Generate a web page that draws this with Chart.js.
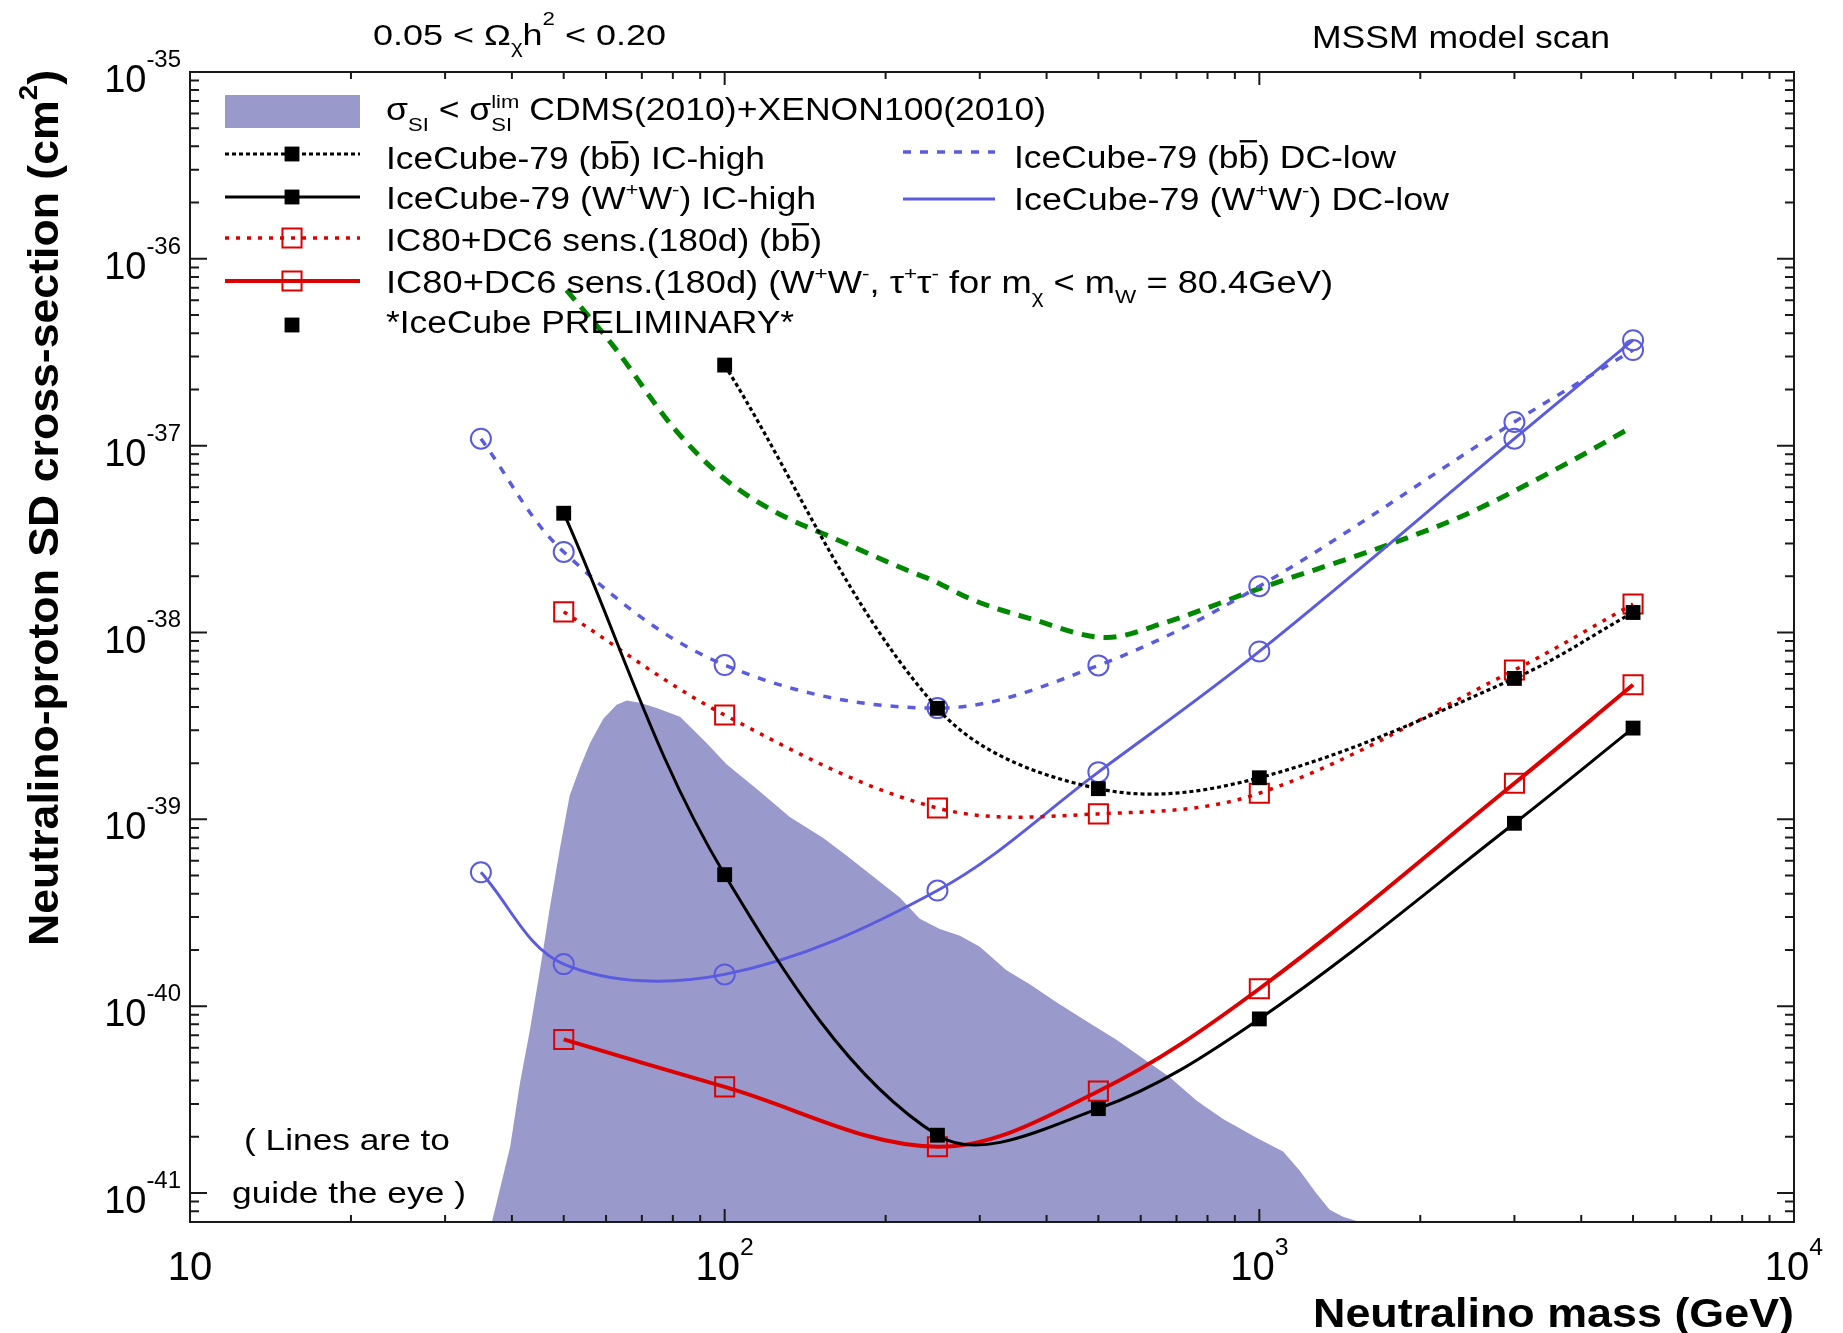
<!DOCTYPE html>
<html>
<head>
<meta charset="utf-8">
<title>Neutralino-proton SD cross-section limits</title>
<script src="https://cdn.jsdelivr.net/npm/chart.js@4.4.0/dist/chart.umd.min.js"></script>
<style>
  html, body { margin: 0; padding: 0; background: #fff; }
  canvas { display: block; }
</style>
</head>
<body>
<canvas id="chart" width="1843" height="1333"></canvas>
<script>
// neutralino masses (GeV) of the analysis points
const massIcHigh = [100, 250, 500, 1000, 3000, 5000];
const massSens = [50, 100, 250, 500, 1000, 3000, 5000];
const massDcLow = [35, 50, 100, 250, 500, 1000, 3000, 5000];

// SD cross-section limits (cm^2)
const icHighBB = [2.70e-37, 3.93e-39, 1.46e-39, 1.67e-39, 5.68e-39, 1.28e-38];
const icHighWW = [4.35e-38, 5.06e-40, 2.04e-41, 2.83e-41, 8.55e-41, 9.53e-40, 3.08e-39];
const sensBB = [1.29e-38, 3.62e-39, 1.15e-39, 1.07e-39, 1.38e-39, 6.30e-39, 1.42e-38];
const sensWW = [6.64e-41, 3.70e-41, 1.77e-41, 3.51e-41, 1.24e-40, 1.56e-39, 5.25e-39];
const dcLowBB = [1.09e-37, 2.70e-38, 6.70e-39, 3.94e-39, 6.67e-39, 1.77e-38, 1.34e-37, 3.25e-37];
const dcLowWW = [5.21e-40, 1.68e-40, 1.48e-40, 4.16e-40, 1.79e-39, 7.92e-39, 1.09e-37, 3.67e-37];

// green dashed curve (no legend entry)
const greenMass = [50.6, 62, 80, 99, 123, 164, 219, 242, 292, 372, 518, 660, 1000, 1800, 2440, 3750, 4930];
const greenSigma = [6.8e-37, 3.4e-37, 1.26e-37, 6.8e-38, 4.5e-38, 3.1e-38, 2.16e-38, 1.93e-38, 1.49e-38,
  1.19e-38, 9.4e-39, 1.12e-38, 1.72e-38, 3.05e-38, 4.3e-38, 8.0e-38, 1.24e-37];

// MSSM scan region allowed by CDMS+XENON100 SI limits (upper edge)
const envMass = [36.7, 39.7, 41.4, 43.2, 45.1, 47.1, 49.2, 51.3, 53.6, 56.0, 59.3, 62.8, 65.6, 69.4, 74.6,
  82.5, 92.5, 100.8, 114.7, 132.4, 152.9, 169, 189.5, 212.6, 231.7, 252.6, 275.4, 300.1, 336.5, 372.1,
  417.5, 475.1, 540.5, 606.2, 680, 762.7, 855.4, 987.7, 1107.6, 1189.6, 1279, 1354, 1434, 1541];
const envSigma = [7e-42, 1.77e-41, 3.86e-41, 7.40e-41, 1.54e-40, 3.36e-40, 7.0e-40, 1.34e-39, 1.89e-39,
  2.56e-39, 3.46e-39, 4.11e-39, 4.33e-39, 4.21e-39, 3.95e-39, 3.54e-39, 2.56e-39, 1.97e-39, 1.46e-39,
  1.03e-39, 7.96e-40, 6.41e-40, 4.95e-40, 3.82e-40, 2.94e-40, 2.59e-40, 2.38e-40, 2.08e-40, 1.56e-40,
  1.31e-40, 1.05e-40, 8.31e-41, 6.61e-41, 5.25e-41, 4.17e-41, 3.13e-41, 2.49e-41, 1.98e-41, 1.67e-41,
  1.32e-41, 9.95e-42, 8.14e-42, 7.47e-42, 7e-42];

// axes
const xTicks = [10, 100, 1000, 10000];
const xTickLabels = ['10', '10^{2}', '10^{3}', '10^{4}'];
const yTicks = [1e-35, 1e-36, 1e-37, 1e-38, 1e-39, 1e-40, 1e-41];
const yTickLabels = ['10^{-35}', '10^{-36}', '10^{-37}', '10^{-38}', '10^{-39}', '10^{-40}', '10^{-41}'];
const xTitle = 'Neutralino mass (GeV)';
const yTitle = 'Neutralino-proton SD cross-section (cm^{2})';
const topLeftText = '0.05 < Ω_{χ}h^{2} < 0.20';
const topRightText = 'MSSM model scan';
const noteLines = ['( Lines are to', 'guide the eye )'];

const BLUE = '#5b5be0';
const RED = '#dd0000';
const FONT = '"Liberation Sans", Arial, sans-serif';

const pts = (xs, ys) => xs.map((x, i) => ({ x: x, y: ys[i] }));

// tiny ROOT-latex like text: ^{..} sup, _{..} sub, #bar{..} overline
function parseTex(s) {
  const out = [];
  let buf = '', i = 0;
  const flush = () => { if (buf) { out.push({ k: 'n', t: buf }); buf = ''; } };
  while (i < s.length) {
    const c = s[i];
    if ((c === '^' || c === '_') && s[i + 1] === '{') {
      flush();
      const j = s.indexOf('}', i);
      out.push({ k: c === '^' ? 'sup' : 'sub', t: s.slice(i + 2, j) });
      i = j + 1;
    } else if (s.startsWith('#bar{', i)) {
      flush();
      const j = s.indexOf('}', i);
      out.push({ k: 'bar', t: s.slice(i + 5, j) });
      i = j + 1;
    } else {
      buf += c;
      i++;
    }
  }
  flush();
  return out;
}

function drawTex(ctx, str, x, y, o) {
  const size = o.size;
  const weight = o.weight || 'normal';
  const small = size * (o.smallRatio || 0.62);
  const rise = size * (o.rise || 0.45);
  const drop = size * (o.drop || 0.3);
  const font = s => weight + ' ' + s + 'px ' + FONT;
  const parts = parseTex(str);
  const items = [];
  let cx = 0;
  for (let i = 0; i < parts.length; i++) {
    const p = parts[i];
    if (p.k === 'sup' || p.k === 'sub') {
      ctx.font = font(small);
      const group = [p];
      const q = parts[i + 1];
      if (q && (q.k === 'sup' || q.k === 'sub') && q.k !== p.k) { group.push(q); i++; }
      let w = 0;
      group.forEach(g => {
        items.push({ t: g.t, x: cx, y: g.k === 'sup' ? -rise : drop, s: small });
        w = Math.max(w, ctx.measureText(g.t).width);
      });
      cx += w;
    } else {
      ctx.font = font(size);
      const w = ctx.measureText(p.t).width;
      items.push({ t: p.t, x: cx, y: 0, s: size, bar: p.k === 'bar' ? w : 0 });
      cx += w;
    }
  }
  const sx = o.width ? o.width / cx : (o.sx || 1);
  const x0 = o.align === 'right' ? -cx : o.align === 'center' ? -cx / 2 : 0;
  ctx.save();
  ctx.translate(x, y);
  if (o.rotate) ctx.rotate(o.rotate);
  ctx.scale(sx, 1);
  ctx.fillStyle = o.color || '#000';
  ctx.textAlign = 'left';
  ctx.textBaseline = 'alphabetic';
  items.forEach(it => {
    ctx.font = font(it.s);
    ctx.fillText(it.t, x0 + it.x, it.y);
    if (it.bar) ctx.fillRect(x0 + it.x + 1, -size * 0.9, it.bar - 2, size * 0.075);
  });
  ctx.restore();
}

const datasets = [
  {
    label: 'IceCube-79 (bb) IC-high',
    data: pts(massIcHigh, icHighBB),
    borderColor: '#000', borderWidth: 3.2, borderDash: [4, 3],
    pointStyle: 'rect', pointRadius: 10.5, pointBackgroundColor: '#000', pointBorderWidth: 0,
    tension: 0.35, order: 2
  },
  {
    label: 'IceCube-79 (W+W-) IC-high',
    data: pts(massSens, icHighWW),
    borderColor: '#000', borderWidth: 3,
    pointStyle: 'rect', pointRadius: 10.5, pointBackgroundColor: '#000', pointBorderWidth: 0,
    tension: 0.35, order: 2
  },
  {
    label: 'IC80+DC6 sens.(180d) (bb)',
    data: pts(massSens, sensBB),
    borderColor: RED, borderWidth: 3.5, borderDash: [4, 7],
    pointStyle: 'rect', pointRadius: 13.5, pointBackgroundColor: 'rgba(0,0,0,0)',
    pointBorderColor: RED, pointBorderWidth: 2,
    tension: 0.35, order: 3
  },
  {
    label: 'IC80+DC6 sens.(180d) (W+W-)',
    data: pts(massSens, sensWW),
    borderColor: RED, borderWidth: 4,
    pointStyle: 'rect', pointRadius: 13.5, pointBackgroundColor: 'rgba(0,0,0,0)',
    pointBorderColor: RED, pointBorderWidth: 2,
    tension: 0.35, order: 3
  },
  {
    label: 'IceCube-79 (bb) DC-low',
    data: pts(massDcLow, dcLowBB),
    borderColor: BLUE, borderWidth: 3.5, borderDash: [8, 9],
    pointStyle: 'circle', pointRadius: 10, pointBackgroundColor: 'rgba(0,0,0,0)',
    pointBorderColor: BLUE, pointBorderWidth: 2,
    tension: 0.35, order: 4
  },
  {
    label: 'IceCube-79 (W+W-) DC-low',
    data: pts(massDcLow, dcLowWW),
    borderColor: BLUE, borderWidth: 3,
    pointStyle: 'circle', pointRadius: 10, pointBackgroundColor: 'rgba(0,0,0,0)',
    pointBorderColor: BLUE, pointBorderWidth: 2,
    tension: 0.35, order: 4
  },
  {
    label: 'green',
    data: pts(greenMass, greenSigma),
    borderColor: '#008800', borderWidth: 5, borderDash: [13, 9],
    pointRadius: 0, cubicInterpolationMode: 'monotone', order: 5
  },
  {
    label: 'CDMS(2010)+XENON100(2010)',
    data: pts(envMass, envSigma),
    borderColor: 'rgba(0,0,0,0)', borderWidth: 0, backgroundColor: '#9999cc',
    fill: 'start', pointRadius: 0, tension: 0, order: 10
  }
];

// frame, inward ticks, labels and legend in ROOT style
const rootFrame = {
  id: 'rootFrame',
  afterDraw(chart) {
    const { ctx, chartArea: a, scales: { x, y } } = chart;
    ctx.save();

    // ticks
    ctx.strokeStyle = '#1a1a1a';
    ctx.lineWidth = 2;
    ctx.beginPath();
    for (let e = 1; e <= 4; e++) {
      for (let k = 1; k <= 9; k++) {
        const v = k * Math.pow(10, e);
        if (v > 10000) break;
        const px = x.getPixelForValue(v);
        const len = k === 1 ? 13 : 7;
        ctx.moveTo(px, a.bottom); ctx.lineTo(px, a.bottom - len);
        ctx.moveTo(px, a.top); ctx.lineTo(px, a.top + len);
      }
    }
    for (let e = -42; e <= -35; e++) {
      for (let k = 1; k <= 9; k++) {
        const v = k * Math.pow(10, e);
        if (v < y.min * 0.999 || v > y.max * 1.001) continue;
        const py = y.getPixelForValue(v);
        const len = k === 1 ? 17 : 9;
        ctx.moveTo(a.left, py); ctx.lineTo(a.left + len, py);
        ctx.moveTo(a.right, py); ctx.lineTo(a.right - len, py);
      }
    }
    ctx.stroke();
    ctx.strokeRect(a.left, a.top, a.right - a.left, a.bottom - a.top);

    // tick labels
    xTicks.forEach((v, i) => {
      drawTex(ctx, xTickLabels[i], x.getPixelForValue(v), 1280,
        { size: 40, align: 'center', rise: 0.62, smallRatio: 0.62 });
    });
    yTicks.forEach((v, i) => {
      drawTex(ctx, yTickLabels[i], 181, y.getPixelForValue(v) + 20,
        { size: 38, align: 'right', rise: 0.66, smallRatio: 0.63 });
    });

    // axis titles
    drawTex(ctx, xTitle, a.right, 1327, { size: 41, weight: 'bold', align: 'right', width: 481 });
    drawTex(ctx, yTitle, 58, 70, { size: 43, weight: 'bold', align: 'right', rotate: -Math.PI / 2, width: 876, rise: 0.5 });

    // texts above the frame and inside it
    drawTex(ctx, topLeftText, 373, 45, { size: 30, width: 293, rise: 0.66, drop: 0.25 });
    drawTex(ctx, topRightText, 1312, 48, { size: 31, width: 298 });
    drawTex(ctx, noteLines[0], 347, 1150, { size: 30, align: 'center', width: 206 });
    drawTex(ctx, noteLines[1], 349, 1203, { size: 30, align: 'center', width: 234 });

    // legend
    const ds = chart.data.datasets;
    ctx.fillStyle = ds[7].backgroundColor;
    ctx.fillRect(225, 95, 135, 33);
    drawTex(ctx, 'σ_{SI} < σ_{SI}^{lim} CDMS(2010)+XENON100(2010)', 386, 120,
      { size: 31, width: 660, drop: 0.36, rise: 0.38 });

    const rows = [
      { d: 0, x0: 225, x1: 360, ly: 154, ty: 169, tx: 386, w: 379, mark: true, text: 'IceCube-79 (b#bar{b}) IC-high' },
      { d: 1, x0: 225, x1: 360, ly: 197, ty: 209, tx: 386, w: 430, mark: true, text: 'IceCube-79 (W^{+}W^{-}) IC-high' },
      { d: 2, x0: 225, x1: 360, ly: 238, ty: 251, tx: 386, w: 436, mark: true, text: 'IC80+DC6 sens.(180d) (b#bar{b})' },
      { d: 3, x0: 225, x1: 360, ly: 281, ty: 293, tx: 386, w: 947, mark: true,
        text: 'IC80+DC6 sens.(180d) (W^{+}W^{-}, τ^{+}τ^{-} for m_{χ} < m_{W} = 80.4GeV)' },
      { d: 1, ly: 325, ty: 333, tx: 386, w: 408, mark: true, noLine: true, text: '*IceCube PRELIMINARY*' },
      { d: 4, x0: 903, x1: 995, ly: 152, ty: 168, tx: 1014, w: 382, text: 'IceCube-79 (b#bar{b}) DC-low' },
      { d: 5, x0: 903, x1: 995, ly: 199, ty: 210, tx: 1014, w: 435, text: 'IceCube-79 (W^{+}W^{-}) DC-low' }
    ];
    rows.forEach(r => {
      const s = ds[r.d];
      if (!r.noLine) {
        ctx.save();
        ctx.strokeStyle = s.borderColor;
        ctx.lineWidth = s.borderWidth;
        ctx.setLineDash(s.borderDash || []);
        ctx.beginPath();
        ctx.moveTo(r.x0, r.ly);
        ctx.lineTo(r.x1, r.ly);
        ctx.stroke();
        ctx.restore();
      }
      if (r.mark) {
        ctx.save();
        ctx.fillStyle = s.pointBackgroundColor;
        ctx.strokeStyle = s.pointBorderColor || s.borderColor;
        ctx.lineWidth = s.pointBorderWidth;
        Chart.helpers.drawPoint(ctx, {
          pointStyle: s.pointStyle, radius: s.pointRadius, rotation: 0, borderWidth: s.pointBorderWidth
        }, 292, r.ly);
        ctx.restore();
      }
      drawTex(ctx, r.text, r.tx, r.ty, { size: 31, width: r.w, rise: 0.42, drop: 0.32 });
    });

    ctx.restore();
  }
};

new Chart(document.getElementById('chart'), {
  type: 'line',
  data: { datasets: datasets },
  options: {
    responsive: false,
    animation: false,
    events: [],
    layout: { padding: { left: 190, right: 49, top: 72, bottom: 111 } },
    scales: {
      x: { type: 'logarithmic', min: 10, max: 10000, display: false },
      y: { type: 'logarithmic', min: 7e-42, max: 1e-35, display: false }
    },
    plugins: {
      legend: { display: false },
      tooltip: { enabled: false }
    }
  },
  plugins: [rootFrame]
});
</script>
</body>
</html>
